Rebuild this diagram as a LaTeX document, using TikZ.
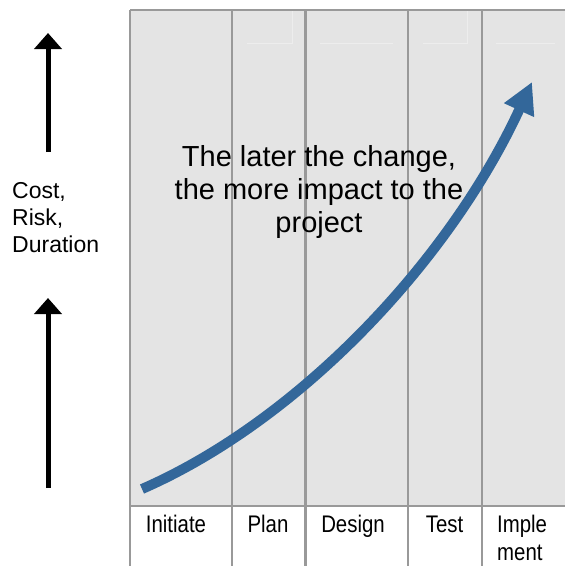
\documentclass[tikz,border=0pt]{standalone}
\usepackage{fontspec}
\setmainfont{Liberation Sans}
\newfontfamily\narrowfont{Liberation Sans}[FakeStretch=0.85]
\usetikzlibrary{arrows.meta}
\definecolor{panelgrey}{HTML}{E4E4E4}
\definecolor{gridgrey}{HTML}{999999}
\definecolor{ghostgrey}{HTML}{EDEDED}
\definecolor{curveblue}{HTML}{33679A}
\tikzset{
  gridline/.style={draw=gridgrey, line width=2.5pt},
  ghostline/.style={draw=ghostgrey, line width=0.8pt},
  phase/.style={font=\narrowfont\fontsize{24}{28}\selectfont, inner sep=0pt, anchor=base},
  axisarrow/.style={draw=black, line width=5pt, -{Triangle[length=16pt,width=27pt]}},
  trend/.style={draw=curveblue, line width=10pt, -{Triangle[length=31pt,width=31pt]}},
}
\begin{document}
\begin{tikzpicture}[x=1pt,y=-1pt]
\useasboundingbox (0,0) rectangle (565,566);

% phase panel
\fill[panelgrey] (130,10) rectangle (565,506);
\draw[ghostline] (247,43) -- (292,43) -- (292,10);
\draw[ghostline] (320,43) -- (393,43);
\draw[ghostline] (423,43) -- (467,43) -- (467,10);
\draw[ghostline] (496,43) -- (555,43);

% column borders
\draw[gridline] (130,10) -- (565,10);
\draw[gridline] (130,506) -- (565,506);
\foreach \cx in {130,232,305.5,408,482}
  \draw[gridline] (\cx,10) -- (\cx,570);

% phase labels
\node[phase] (initiate) at (176,532) {Initiate};
\node[phase] (plan) at (268,532) {Plan};
\node[phase] (design) at (353,532) {Design};
\node[phase] (test) at (444.5,532) {Test};
\node[phase, anchor=base west, align=left] (implement) at (497,560) {Imple\\ment};

% vertical axis
\coordinate (up1a) at (48,152);
\coordinate (up1b) at (48,33);
\coordinate (up2a) at (48,488);
\coordinate (up2b) at (48,298);
\draw[axisarrow] (up1a) -- (up1b);
\draw[axisarrow] (up2a) -- (up2b);
\node[anchor=base west, align=left, inner sep=0pt,
      font=\fontsize{23}{27}\selectfont] (axislabel) at (12,252) {Cost,\\Risk,\\Duration};

% rising impact curve
\coordinate (cstart) at (142,489);
\coordinate (cctrlA) at (300,420);
\coordinate (cctrlB) at (450,260);
\coordinate (cend) at (532,82);
\draw[trend] (cstart) .. controls (cctrlA) and (cctrlB) .. (cend);

% caption
\node[align=center, inner sep=0pt, anchor=base,
      font=\fontsize{29}{33}\selectfont] (caption) at (319,232)
  {The later the change,\\the more impact to the\\project};
\end{tikzpicture}
\end{document}
